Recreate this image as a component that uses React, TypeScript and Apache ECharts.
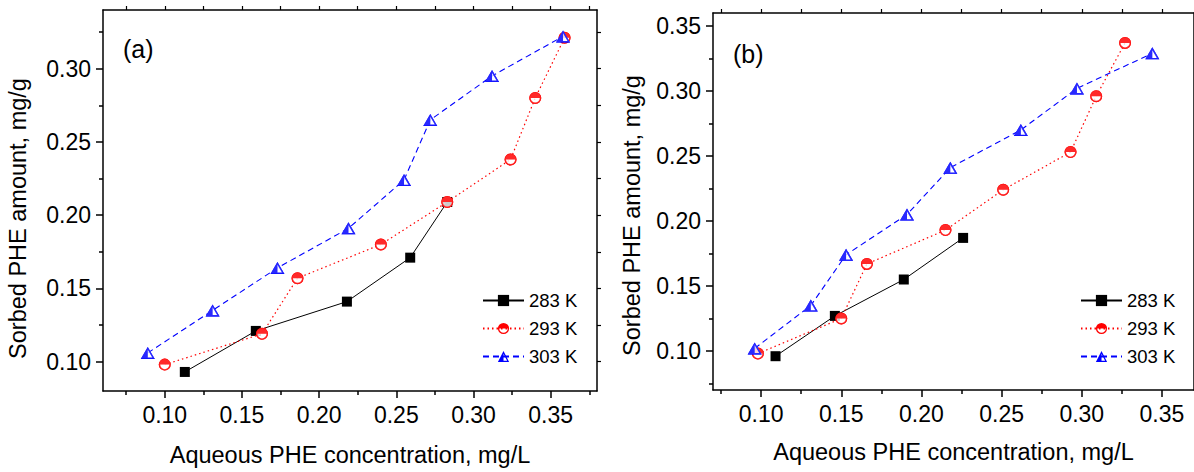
import React, { useEffect, useRef } from 'react';
import * as echarts from 'echarts';

// ---- data: panel (a) ----
const xA283 = [0.113, 0.159, 0.218, 0.259, 0.283];
const yA283 = [0.093, 0.121, 0.141, 0.171, 0.209];
const xA293 = [0.1, 0.163, 0.186, 0.24, 0.283, 0.324, 0.34, 0.359];
const yA293 = [0.098, 0.119, 0.157, 0.18, 0.209, 0.238, 0.28, 0.321];
const xA303 = [0.089, 0.131, 0.173, 0.219, 0.255, 0.272, 0.312, 0.358];
const yA303 = [0.106, 0.135, 0.164, 0.191, 0.224, 0.265, 0.295, 0.322];

// ---- data: panel (b) ----
const xB283 = [0.109, 0.146, 0.189, 0.226];
const yB283 = [0.096, 0.127, 0.155, 0.187];
const xB293 = [0.098, 0.15, 0.166, 0.215, 0.251, 0.293, 0.309, 0.327];
const yB293 = [0.098, 0.125, 0.167, 0.193, 0.224, 0.253, 0.296, 0.337];
const xB303 = [0.096, 0.131, 0.153, 0.191, 0.218, 0.262, 0.297, 0.344];
const yB303 = [0.102, 0.135, 0.174, 0.205, 0.241, 0.27, 0.302, 0.329];

const seriesNames = ['283 K', '293 K', '303 K'];

// ---- ticks ----
const xMajorA = [0.1, 0.15, 0.2, 0.25, 0.3, 0.35];
const xMinorA = [0.075, 0.125, 0.175, 0.225, 0.275, 0.325, 0.375];
const yMajorA = [0.1, 0.15, 0.2, 0.25, 0.3];
const yMinorA = [0.125, 0.175, 0.225, 0.275, 0.325];
const xMajorB = [0.1, 0.15, 0.2, 0.25, 0.3, 0.35];
const xMinorB = [0.075, 0.125, 0.175, 0.225, 0.275, 0.325];
const yMajorB = [0.1, 0.15, 0.2, 0.25, 0.3, 0.35];
const yMinorB = [0.075, 0.125, 0.175, 0.225, 0.275, 0.325];

const xTitle = 'Aqueous PHE concentration, mg/L';
const yTitle = 'Sorbed PHE amount, mg/g';
const panelLabels = ['(a)', '(b)'];

const FONT = '"Liberation Sans", Arial, Helvetica, sans-serif';

const halfCircle =
  'path://M0,5 A5,5 0 0 1 10,5 Z M10,5 A5,5 0 0 1 0,5 L1.2,5 A3.8,3.8 0 0 0 8.8,5 Z';
const halfTriangle =
  'path://M5,0 L5,10 L0,10 Z M5,0 L10,10 L5,10 L5,8.9 L8.22,8.9 L5,2.46 Z';

const zip = (xs: number[], ys: number[]) => xs.map((x, i) => [x, ys[i]]);
const sorted = (a: number[], b: number[]) => [...a, ...b].sort((p, q) => p - q);

function mainAxis(dim: 'x' | 'y', grid: number, min: number, max: number, ticks: number[], name: string, nameGap: number, pad?: number[]) {
  return {
    type: 'value',
    gridIndex: grid,
    min,
    max,
    position: dim === 'x' ? 'bottom' : 'left',
    name,
    nameLocation: 'middle',
    nameGap,
    nameTextStyle: { fontSize: 23.5, color: '#000', fontFamily: FONT, padding: pad || 0 },
    axisLine: { show: true, onZero: false, lineStyle: { color: '#000', width: 1.5 } },
    axisTick: { show: true, customValues: ticks, length: 7, lineStyle: { color: '#000', width: 1.5 } },
    axisLabel: {
      show: true,
      customValues: ticks,
      formatter: (v: number) => v.toFixed(2),
      fontSize: 23,
      color: '#000',
      fontFamily: FONT,
      margin: 12,
    },
    splitLine: { show: false },
  };
}

function minorAxis(dim: 'x' | 'y', grid: number, min: number, max: number, ticks: number[]) {
  return {
    type: 'value',
    gridIndex: grid,
    min,
    max,
    position: dim === 'x' ? 'bottom' : 'left',
    axisLine: { show: false, onZero: false },
    axisTick: { show: true, customValues: ticks, length: 4, lineStyle: { color: '#000', width: 1.5 } },
    axisLabel: { show: false },
    splitLine: { show: false },
  };
}

function borderAxis(dim: 'x' | 'y', grid: number, min: number, max: number, ticks: number[]) {
  return {
    type: 'value',
    gridIndex: grid,
    min,
    max,
    position: dim === 'x' ? 'top' : 'right',
    axisLine: { show: true, onZero: false, lineStyle: { color: '#000', width: 1.5 } },
    axisTick: { show: true, customValues: ticks, length: 4, lineStyle: { color: '#000', width: 1.2 } },
    axisLabel: { show: false },
    splitLine: { show: false },
  };
}

function panelSeries(xi: number, yi: number, tag: string, d283: number[][], d293: number[][], d303: number[][]) {
  const base = { xAxisIndex: xi, yAxisIndex: yi, silent: true, emphasis: { disabled: true } };
  return [
    {
      ...base,
      type: 'line',
      name: seriesNames[0],
      data: d283,
      z: 2,
      symbol: 'rect',
      symbolSize: 10,
      showAllSymbol: true,
      itemStyle: { color: '#000' },
      lineStyle: { color: '#000', width: 1, type: 'solid' },
    },
    {
      ...base,
      type: 'line',
      name: seriesNames[1],
      data: d293,
      z: 3,
      symbol: halfCircle,
      symbolSize: 12,
      showAllSymbol: true,
      itemStyle: { color: '#ff0000' },
      lineStyle: { color: '#ff0000', width: 1.2, type: [1.5, 3] },
    },
    {
      ...base,
      type: 'scatter',
      name: 'w293' + tag,
      data: d293,
      z: 4,
      symbol: 'circle',
      symbolSize: 11,
      itemStyle: { color: '#ffffff' },
    },
    {
      ...base,
      type: 'scatter',
      name: 'h293' + tag,
      data: d293,
      z: 5,
      symbol: halfCircle,
      symbolSize: 12,
      itemStyle: { color: '#ff0000' },
    },
    {
      ...base,
      type: 'line',
      name: seriesNames[2],
      data: d303,
      z: 6,
      symbol: halfTriangle,
      symbolSize: [14, 12],
      showAllSymbol: true,
      itemStyle: { color: '#0000ff' },
      lineStyle: { color: '#0000ff', width: 1.1, type: [6, 4] },
    },
    {
      ...base,
      type: 'scatter',
      name: 'w303' + tag,
      data: d303,
      z: 7,
      symbol: 'triangle',
      symbolSize: [13, 11],
      itemStyle: { color: '#ffffff' },
    },
    {
      ...base,
      type: 'scatter',
      name: 'h303' + tag,
      data: d303,
      z: 8,
      symbol: halfTriangle,
      symbolSize: [14, 12],
      itemStyle: { color: '#0000ff' },
    },
  ];
}

function legendAt(left: number, top: number) {
  return {
    data: seriesNames,
    orient: 'vertical',
    left,
    top,
    padding: 0,
    itemWidth: 41,
    itemHeight: 14,
    itemGap: 9,
    selectedMode: false,
    textStyle: { fontSize: 18.5, color: '#000', fontFamily: FONT },
  };
}

export default function App() {
  const ref = useRef<HTMLDivElement>(null);
  useEffect(() => {
    if (!ref.current) return;
    const chart = echarts.init(ref.current, undefined, { renderer: 'svg' });
    const option: any = {
      animation: false,
      backgroundColor: '#ffffff',
      textStyle: { fontFamily: FONT },
      grid: [
        { left: 103, top: 10, width: 494, height: 384 },
        { left: 713, top: 13, width: 485, height: 377 },
      ],
      xAxis: [
        mainAxis('x', 0, 0.06, 0.38, xMajorA, xTitle, 52),
        minorAxis('x', 0, 0.06, 0.38, xMinorA),
        borderAxis('x', 0, 0.06, 0.38, sorted(xMajorA, xMinorA)),
        mainAxis('x', 1, 0.07, 0.37, xMajorB, xTitle, 50),
        minorAxis('x', 1, 0.07, 0.37, xMinorB),
        borderAxis('x', 1, 0.07, 0.37, sorted(xMajorB, xMinorB)),
      ],
      yAxis: [
        mainAxis('y', 0, 0.08, 0.34, yMajorA, yTitle, 73, [0, 36, 0, 0]),
        minorAxis('y', 0, 0.08, 0.34, yMinorA),
        borderAxis('y', 0, 0.08, 0.34, sorted(yMajorA, yMinorA)),
        mainAxis('y', 1, 0.07, 0.36, yMajorB, yTitle, 69, [0, 28, 0, 0]),
        minorAxis('y', 1, 0.07, 0.36, yMinorB),
        borderAxis('y', 1, 0.07, 0.36, sorted(yMajorB, yMinorB)),
      ],
      legend: [legendAt(482, 291), legendAt(1080, 291)],
      graphic: [
        { type: 'text', left: 123, top: 36, style: { text: panelLabels[0], fontSize: 25, fill: '#000', fontFamily: FONT } },
        { type: 'text', left: 733, top: 41, style: { text: panelLabels[1], fontSize: 25, fill: '#000', fontFamily: FONT } },
      ],
      series: [
        ...panelSeries(0, 0, 'a', zip(xA283, yA283), zip(xA293, yA293), zip(xA303, yA303)),
        ...panelSeries(3, 3, 'b', zip(xB283, yB283), zip(xB293, yB293), zip(xB303, yB303)),
      ],
    };
    chart.setOption(option);
    return () => chart.dispose();
  }, []);
  return (
    <div
      ref={ref}
      style={{ position: 'absolute', left: 0, top: 0, width: 1194, height: 472, overflow: 'hidden' }}
    />
  );
}
